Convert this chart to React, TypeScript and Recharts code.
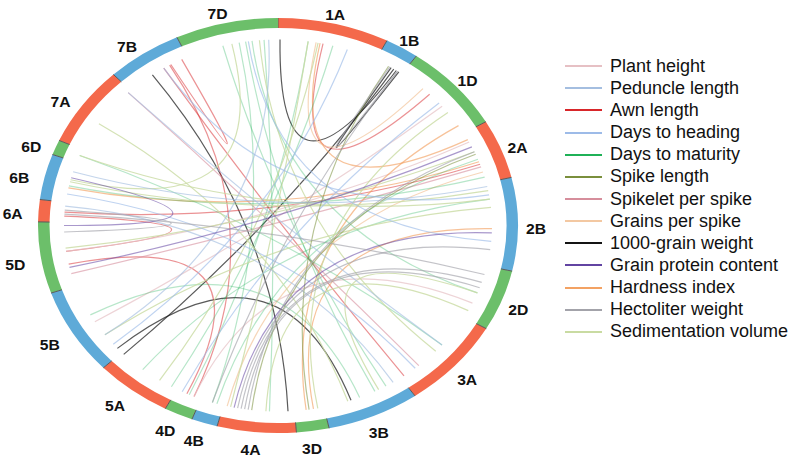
import React from "react";
import { PieChart, Pie, Cell, Legend, Customized } from "recharts";

// Chromosome ring, clockwise from 12 o'clock. Lengths.
const CHROMOSOMES = [
  "1A", "1B", "1D", "2A", "2B", "2D", "3A", "3B", "3D", "4A", "4B",
  "4D", "5A", "5B", "5D", "6A", "6B", "6D", "7A", "7B", "7D",
];
const CHROM_LENGTHS = [
  27, 8.2, 24.8, 16.6, 26.1, 17.1, 25.4, 22.5, 7.9, 19.1, 6.3,
  7, 18.7, 24.3, 20, 6.2, 12.8, 4.2, 22.5, 18.4, 24.9,
];
const GENOME_COLORS: Record<string, string> = {
  A: "#f4694b",
  B: "#5eaad8",
  D: "#6cbf6a",
};

const TRAITS = [
  "Plant height",
  "Peduncle length",
  "Awn length",
  "Days to heading",
  "Days to maturity",
  "Spike length",
  "Spikelet per spike",
  "Grains per spike",
  "1000-grain weight",
  "Grain protein content",
  "Hardness index",
  "Hectoliter weight",
  "Sedimentation volume",
];
const TRAIT_COLORS = [
  "#e6c0c4", "#a4bee0", "#d8262a", "#9dbbe8", "#1fb157", "#7a8f3c", "#d68e9c",
  "#f3c8a2", "#141414", "#6244a2", "#f3a263", "#a3a3aa", "#c9dba2",
];
const TRAIT_OPACITY = [
  0.7, 0.65, 0.5, 0.65, 0.32, 0.55, 0.6, 0.75, 0.7, 0.55, 0.65, 0.65, 0.8,
];

// [trait, chromosome, position 0-1, chromosome, position 0-1]
type Link = [number, string, number, string, number];
const LINKS: Link[] = [
  [8, "1A", 0.02, "1B", 0.8],
  [8, "1B", 0.7, "5A", 0.97],
  [8, "1B", 0.6, "1B", 0.9],
  [8, "7B", 0.4, "4A", 0.09],
  [8, "5B", 0.08, "3B", 0.66],
  [2, "7B", 0.72, "7B", 0.9],
  [2, "7B", 0.6, "3A", 0.95],
  [2, "6A", 0.3, "5D", 0.55],
  [2, "5D", 0.35, "4D", 0.6],
  [2, "1A", 0.45, "1D", 0.4],
  [2, "7B", 0.7, "4D", 0.3],
  [2, "2A", 0.65, "6A", 0.5],
  [6, "7A", 0.95, "3A", 0.75],
  [0, "5D", 0.55, "2A", 0.2],
  [0, "5B", 0.5, "1D", 0.6],
  [6, "2A", 0.7, "5D", 0.2],
  [0, "4D", 0.3, "2D", 0.7],
  [7, "1A", 0.38, "1D", 0.3],
  [7, "2A", 0.8, "4A", 0.95],
  [10, "1A", 0.42, "2A", 0.15],
  [10, "3D", 0.35, "2B", 0.55],
  [10, "2A", 0.6, "6B", 0.35],
  [10, "3D", 0.6, "1D", 0.9],
  [4, "7D", 0.65, "3B", 0.35],
  [4, "7D", 0.72, "2D", 0.5],
  [4, "7D", 0.85, "4A", 0.35],
  [4, "6B", 0.4, "2A", 0.9],
  [4, "1A", 0.3, "4D", 0.5],
  [4, "5A", 0.1, "1A", 0.55],
  [4, "4B", 0.5, "7D", 0.58],
  [4, "3B", 0.55, "5B", 0.6],
  [4, "3B", 0.2, "7D", 0.4],
  [4, "2A", 0.55, "4B", 0.3],
  [4, "3A", 0.4, "6D", 0.5],
  [4, "2B", 0.2, "5A", 0.6],
  [12, "7D", 0.8, "3A", 0.5],
  [12, "7D", 0.5, "6B", 0.55],
  [12, "6B", 0.5, "2B", 0.1],
  [12, "6D", 0.5, "2B", 0.2],
  [12, "1A", 0.4, "5A", 0.3],
  [12, "4A", 0.9, "1A", 0.3],
  [12, "3B", 0.3, "2D", 0.5],
  [12, "3B", 0.7, "7A", 0.4],
  [12, "2B", 0.3, "5B", 0.3],
  [12, "3D", 0.2, "1D", 0.7],
  [12, "4A", 0.4, "2D", 0.85],
  [12, "2A", 0.4, "5D", 0.6],
  [3, "7D", 0.68, "2B", 0.7],
  [3, "2B", 0.15, "7B", 0.6],
  [3, "5B", 0.15, "1A", 0.7],
  [3, "6B", 0.2, "3A", 0.8],
  [3, "4D", 0.8, "1D", 0.55],
  [1, "7A", 0.95, "3A", 0.4],
  [1, "6B", 0.75, "2B", 0.05],
  [1, "5B", 0.3, "7D", 0.9],
  [1, "6A", 0.8, "3B", 0.1],
  [5, "1B", 0.5, "3D", 0.5],
  [5, "2A", 0.45, "4A", 0.6],
  [9, "6B", 0.6, "5D", 0.95],
  [9, "2A", 0.3, "5D", 0.3],
  [9, "4A", 0.85, "2B", 0.6],
  [11, "6A", 0.4, "2D", 0.15],
  [11, "6A", 0.6, "5D", 0.85],
  [11, "1B", 0.55, "1B", 0.85],
  [11, "1B", 0.85, "4B", 0.5],
  [11, "4A", 0.8, "2B", 0.8],
  [11, "4A", 0.75, "2D", 0.3],
  [11, "4A", 0.7, "2D", 0.4],
  [11, "2A", 0.4, "4A", 0.65],
];

const CX = 278;
const CY = 225.5;
const RX_OUT = 240;
const RY_OUT = 207.5;
const RX_IN = 228.5;
const RY_IN = 197.5;
const RX_LINK = 214;
const RY_LINK = 186;
const RX_LABEL = 262;
const RY_LABEL = 221;
const START_ANGLE = 90;
const RAD = Math.PI / 180;

const ringData = CHROMOSOMES.map((name, i) => ({ name, value: CHROM_LENGTHS[i] }));

function ellipsePt(rx: number, ry: number, deg: number, cx = CX, cy = CY) {
  return [cx + rx * Math.cos(deg * RAD), cy - ry * Math.sin(deg * RAD)];
}

function RingSector(props: any) {
  const { cx, cy, startAngle, endAngle, fill } = props;
  const o0 = ellipsePt(RX_OUT, RY_OUT, startAngle, cx, cy);
  const o1 = ellipsePt(RX_OUT, RY_OUT, endAngle, cx, cy);
  const i0 = ellipsePt(RX_IN, RY_IN, startAngle, cx, cy);
  const i1 = ellipsePt(RX_IN, RY_IN, endAngle, cx, cy);
  const large = Math.abs(endAngle - startAngle) > 180 ? 1 : 0;
  const sweep = startAngle > endAngle ? 1 : 0;
  const d =
    `M${o0[0]},${o0[1]} A${RX_OUT},${RY_OUT} 0 ${large} ${sweep} ${o1[0]},${o1[1]} ` +
    `L${i1[0]},${i1[1]} A${RX_IN},${RY_IN} 0 ${large} ${1 - sweep} ${i0[0]},${i0[1]} Z`;
  return (
    <g>
      <path d={d} fill={fill} stroke="none" />
      <line x1={i0[0]} y1={i0[1]} x2={o0[0]} y2={o0[1]} stroke="#5a5a5a" strokeWidth={1} />
    </g>
  );
}

function renderLabel(props: any) {
  const { cx, cy, midAngle, payload } = props;
  const [x, y] = ellipsePt(RX_LABEL, RY_LABEL, midAngle, cx, cy);
  // labels hang just below their anchor point, slightly widened like the source
  return (
    <text
      transform={`translate(${x - 4},${y + 5}) scale(1.12,1)`}
      x={0}
      y={0}
      textAnchor="middle"
      dominantBaseline="central"
      fontFamily="'Liberation Sans', Arial, sans-serif"
      fontWeight="bold"
      fontSize={14}
      fill="#111"
    >
      {payload.name}
    </text>
  );
}

// same angle mapping the Pie uses: cumulative length around 360 degrees
const total = CHROM_LENGTHS.reduce((a, b) => a + b, 0);
const cumStart: Record<string, number> = {};
CHROMOSOMES.reduce((acc, name, i) => {
  cumStart[name] = acc;
  return acc + CHROM_LENGTHS[i];
}, 0);
function linkAngle(chr: string, pos: number) {
  const len = CHROM_LENGTHS[CHROMOSOMES.indexOf(chr)];
  return START_ANGLE - (360 * (cumStart[chr] + pos * len)) / total;
}

function LinkLayer() {
  return (
    <g fill="none">
      {LINKS.map(([t, c1, p1, c2, p2], i) => {
        const a = ellipsePt(RX_LINK, RY_LINK, linkAngle(c1, p1));
        const b = ellipsePt(RX_LINK, RY_LINK, linkAngle(c2, p2));
        return (
          <path
            key={i}
            d={`M${a[0]},${a[1]} Q${CX},${CY} ${b[0]},${b[1]}`}
            stroke={TRAIT_COLORS[t]}
            strokeOpacity={TRAIT_OPACITY[t]}
            strokeWidth={1.2}
          />
        );
      })}
    </g>
  );
}

function TraitLegend() {
  return (
    <div style={{ fontFamily: "'Liberation Sans', Arial, sans-serif", fontSize: 18, color: "#111" }}>
      {TRAITS.map((t, i) => (
        <div key={t} style={{ display: "flex", alignItems: "center", height: 22.17, whiteSpace: "nowrap" }}>
          <span
            style={{
              display: "inline-block",
              width: 37,
              height: 2,
              background: TRAIT_COLORS[i],
              marginRight: 8,
            }}
          />
          <span>{t}</span>
        </div>
      ))}
    </div>
  );
}

export default function App() {
  return (
    <div style={{ width: 793, height: 459, background: "#fff" }}>
      <style>{"body{margin:0}"}</style>
      <PieChart width={793} height={459} margin={{ top: 0, right: 0, bottom: 0, left: 0 }}>
        <Customized component={<LinkLayer />} />
        <Pie
          data={ringData}
          dataKey="value"
          nameKey="name"
          cx={CX}
          cy={CY}
          innerRadius={RY_IN}
          outerRadius={RY_OUT}
          startAngle={START_ANGLE}
          endAngle={START_ANGLE - 360}
          paddingAngle={0}
          stroke="none"
          shape={RingSector}
          label={renderLabel}
          labelLine={false}
          isAnimationActive={false}
        >
          {ringData.map((d) => (
            <Cell key={d.name} fill={GENOME_COLORS[d.name[1]]} />
          ))}
        </Pie>
        <Legend
          content={() => <TraitLegend />}
          wrapperStyle={{ left: 565, top: 55, width: 228 }}
        />
      </PieChart>
    </div>
  );
}
